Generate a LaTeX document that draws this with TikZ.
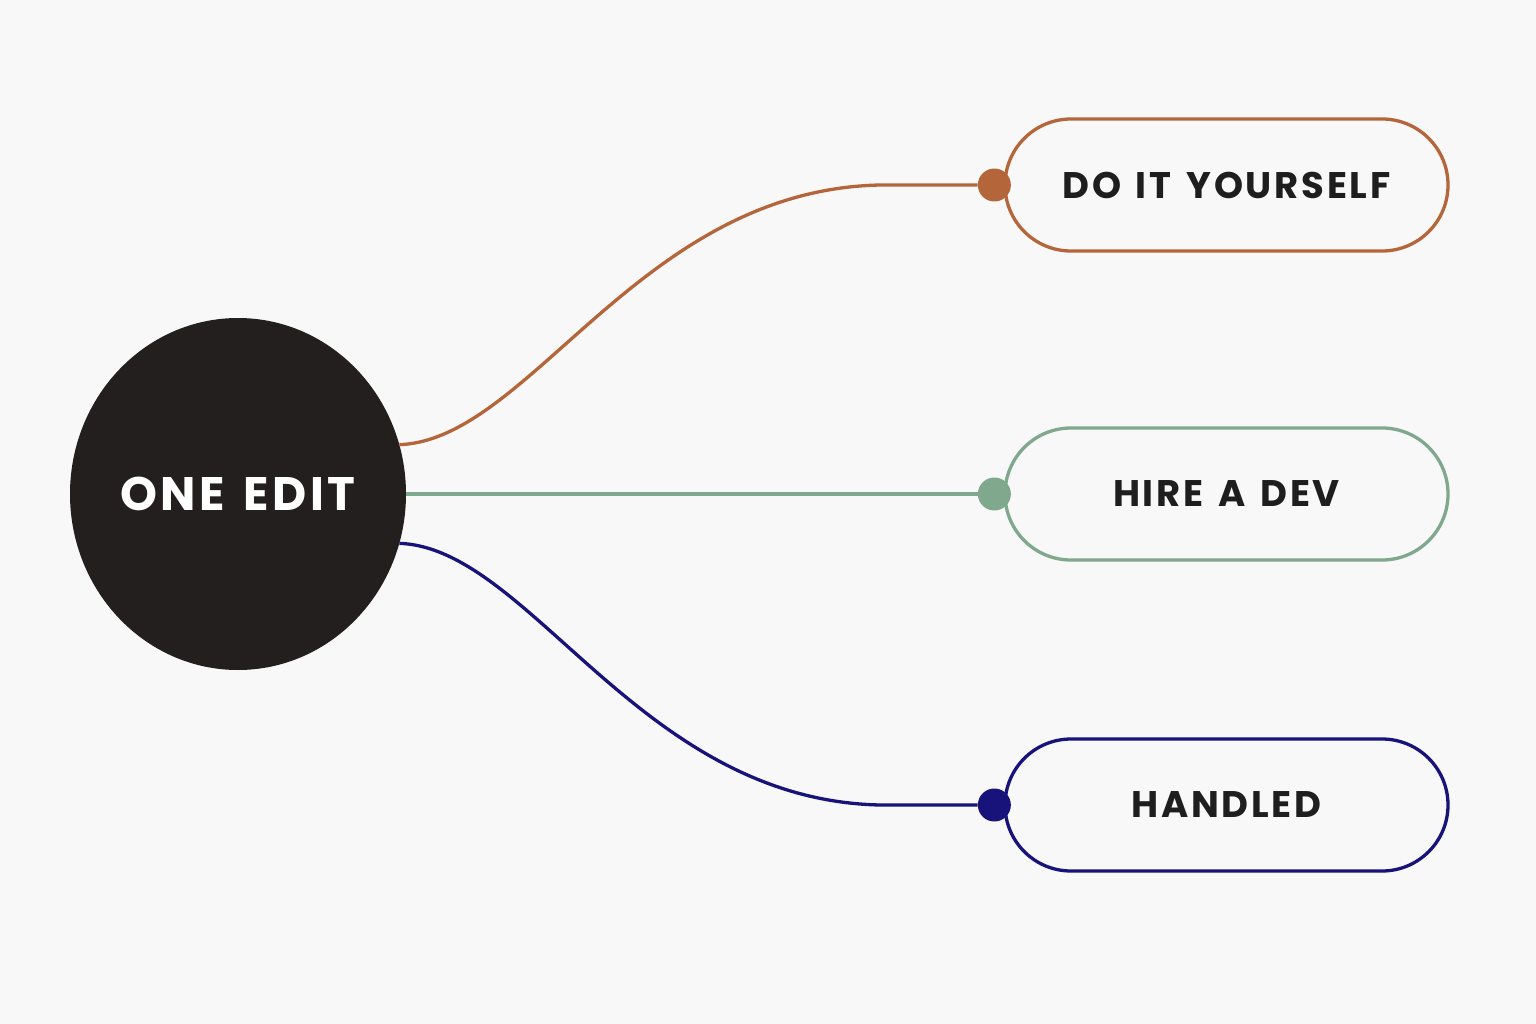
\documentclass[tikz,border=0pt]{standalone}
\usepackage{fontspec}
\newfontfamily\pop{Poppins}[LetterSpace=7.5, WordSpace=1.4]
\usetikzlibrary{shapes.geometric}
\definecolor{bg}{HTML}{F8F8F8}
\definecolor{hub}{HTML}{221F1E}
\definecolor{corange}{HTML}{B5653A}
\definecolor{cgreen}{HTML}{7FA88C}
\definecolor{cnavy}{HTML}{17137A}
\definecolor{txt}{HTML}{1E1E1E}
\begin{document}
\begin{tikzpicture}[x=1pt,y=-1pt,
  pill/.style={draw=#1, line width=3.3pt, fill=bg, rounded corners=66pt,
     minimum width=443pt, minimum height=132pt, inner sep=0pt,
     font=\pop\bfseries\fontsize{37}{40}\selectfont, text=txt},
  dotnode/.style={circle, fill=#1, minimum size=33pt, inner sep=0pt},
  link/.style={draw=#1, line width=3.3pt}]
\fill[bg] (0,0) rectangle (1536,1024);
\useasboundingbox (0,0) rectangle (1536,1024);
\node[ellipse, fill=hub, minimum width=336pt, minimum height=352pt, inner sep=0pt] (c) at (238,494) {};
\node[text=white, font=\pop\bfseries\fontsize{47}{50}\selectfont, inner sep=0pt] (ct) at (c.center) {ONE EDIT};
\node[pill=corange] (p1) at (1226.5,185) {DO IT YOURSELF};
\node[pill=cgreen]  (p2) at (1226.5,494) {HIRE A DEV};
\node[pill=cnavy]   (p3) at (1226.5,805) {HANDLED};
\node[dotnode=corange] (d1) at ([xshift=-9pt]p1.west) {};
\node[dotnode=cgreen]  (d2) at ([xshift=-9pt]p2.west) {};
\node[dotnode=cnavy]   (d3) at ([xshift=-9pt]p3.west) {};
\draw[link=corange] (c.17.5) .. controls (530,440) and (640,190) .. (880,185) -- (d1.west);
\draw[link=cgreen] (c.0) -- (d2.west);
\draw[link=cnavy] (c.-17.5) .. controls (530,548) and (640,800) .. (880,805) -- (d3.west);
\end{tikzpicture}
\end{document}
